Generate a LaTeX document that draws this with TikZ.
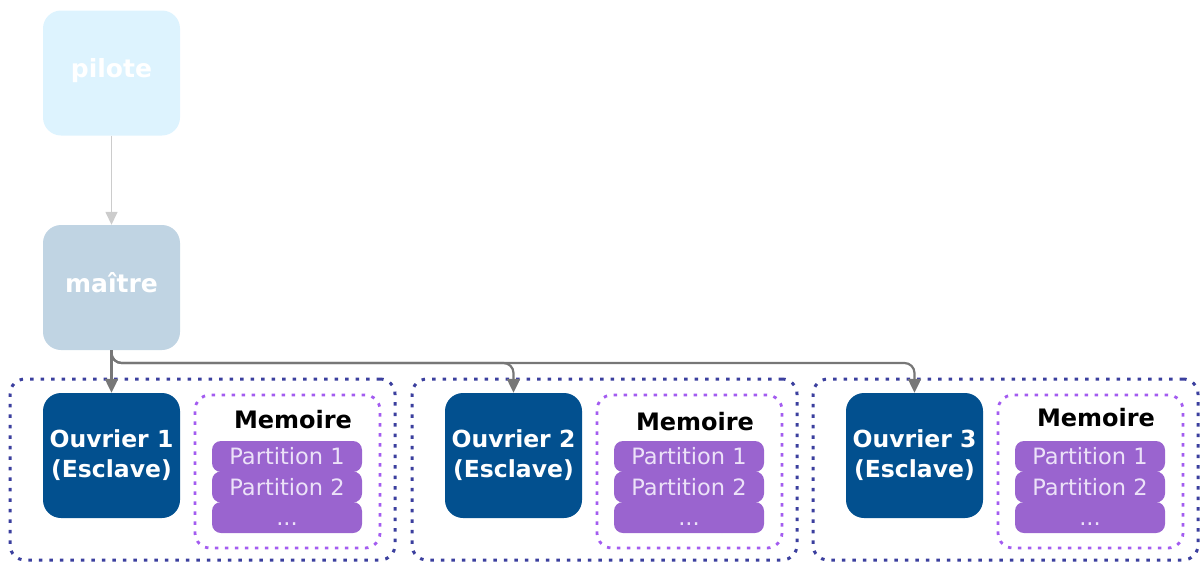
\documentclass[tikz,border=0pt]{standalone}
\usepackage{fontspec}
\setmainfont{DejaVu Sans}
\usetikzlibrary{arrows.meta}
\definecolor{pilotec}{HTML}{DDF3FE}
\definecolor{maitrec}{HTML}{C0D4E3}
\definecolor{ouvc}{HTML}{02508F}
\definecolor{outerc}{HTML}{3B3F9E}
\definecolor{memc}{HTML}{A35CF0}
\definecolor{partc}{HTML}{9A64CF}
\definecolor{partt}{HTML}{ECE2F8}
\definecolor{connc}{HTML}{777777}
\begin{document}
\begin{tikzpicture}[x=1pt,y=-1pt,
  topbox/.style={rounded corners=18pt,minimum width=137pt,minimum height=125pt,inner sep=0pt,
    text=white,font=\fontsize{25}{30}\selectfont\bfseries,align=center},
  ouvbox/.style={topbox,fill=ouvc,font=\fontsize{23.5}{30}\selectfont\bfseries},
  outerbox/.style={draw=outerc,line width=3pt,dash pattern=on 3.5pt off 7pt,rounded corners=15pt,
    minimum width=385pt,minimum height=181pt,inner sep=0pt},
  membox/.style={draw=memc,line width=2.8pt,dash pattern=on 3.5pt off 6.5pt,rounded corners=15pt,
    minimum width=185pt,minimum height=153pt,inner sep=0pt},
  partbox/.style={fill=partc,rounded corners=9pt,minimum width=150pt,minimum height=31pt,inner sep=0pt,
    text=partt,font=\fontsize{22.5}{24}\selectfont},
  memlabel/.style={font=\fontsize{24}{26}\selectfont\bfseries,text=black,inner sep=0pt},
  conn/.style={draw=connc,line width=2.2pt,-{Triangle[length=14pt,width=13pt]}}]
\useasboundingbox (0,0) rectangle (1203,563);
\node[topbox,fill=pilotec] (pilote) at (111.5,73) {\smash{\raisebox{-4pt}{pilote}}};
\node[topbox,fill=maitrec] (maitre) at (111.5,287.5) {\smash{\raisebox{-5pt}{maître}}};
\draw[draw=black!20,line width=1.5pt,-{Triangle[length=13pt,width=12pt]}] (pilote.south) -- (maitre.north);
\foreach \i/\o/\my in {1/0/420,2/402/422,3/803/418}{
  \node[outerbox] (outer\i) at (202.5+\o,469.5) {};
  \node[membox] (mem\i) at (287.5+\o,471.5) {};
  \node[memlabel] (memlab\i) at (293+\o,\my) {Memoire};
  \node[partbox] (pc\i) at (287+\o,517.5) {\smash{\raisebox{-8pt}{...}}};
  \node[partbox] (pb\i) at (287+\o,487) {Partition 2};
  \node[partbox] (pa\i) at (287+\o,456.5) {Partition 1};
  \node[ouvbox] (ouv\i) at (111.5+\o,455.5) {Ouvrier \i\\(Esclave)};
}
\coordinate (j2) at (ouv2.north |- 0,363);
\coordinate (j3) at (ouv3.north |- 0,363);
\draw[conn] (maitre.south) -- (ouv1.north);
\draw[conn,rounded corners=10pt] (maitre.south) |- (j2) -- (ouv2.north);
\draw[conn,rounded corners=10pt] (maitre.south) |- (j3) -- (ouv3.north);
\end{tikzpicture}
\end{document}
